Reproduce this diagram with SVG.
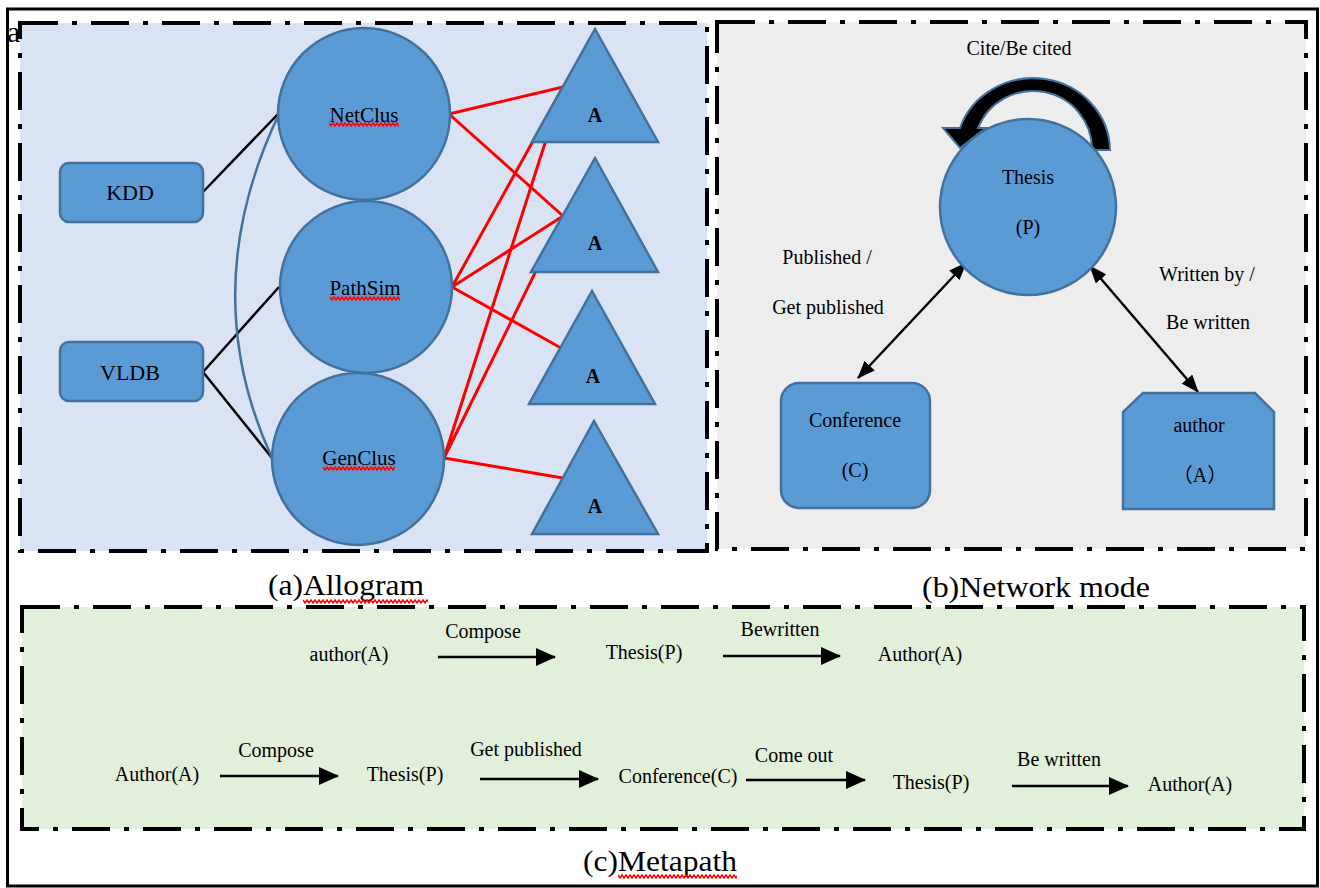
<svg xmlns="http://www.w3.org/2000/svg" xmlns:xlink="http://www.w3.org/1999/xlink" width="1320" height="888" viewBox="0 0 1320 888">
<style>
.t{font-family:"Liberation Serif","Times New Roman",serif;fill:#000;text-anchor:middle}
.s20{font-size:20px}
.s21{font-size:21px}
.s22{font-size:22px}
.lbl{font-size:30px}
.bold{font-weight:bold}
.panel{stroke:#000;stroke-width:4;stroke-dasharray:38 14 5 14}
.shape{fill:#5b9bd5;stroke:#41719c;stroke-width:2.5}
.blk{stroke:#000;stroke-width:2.5;fill:none}
.red{stroke:#ff0000;stroke-width:3;fill:none}
.arr{stroke:#000;stroke-width:2.5;fill:none}
.wv{stroke:#ff0000;stroke-width:1.5;fill:none}
</style>
<defs>
<marker id="ah" viewBox="0 0 18 14" refX="17" refY="7" markerWidth="18" markerHeight="14" markerUnits="userSpaceOnUse" orient="auto-start-reverse"><path d="M0,0 L18,7 L0,14 z" fill="#000"/></marker>
<marker id="ahc" viewBox="0 0 20 18" refX="19" refY="9" markerWidth="20" markerHeight="18" markerUnits="userSpaceOnUse" orient="auto"><path d="M0,0 L20,9 L0,18 z" fill="#000"/></marker>
<path id="wave" class="wv" d="M0,1 l2,3 2,-3 2,3 2,-3 2,3 2,-3 2,3 2,-3 2,3 2,-3 2,3 2,-3 2,3 2,-3 2,3 2,-3 2,3 2,-3 2,3 2,-3 2,3 2,-3 2,3 2,-3 2,3 2,-3 2,3 2,-3 2,3 2,-3 2,3 2,-3 2,3 2,-3 2,3 2,-3 2,3 2,-3 2,3 2,-3 2,3 2,-3 2,3 2,-3 2,3 2,-3 2,3 2,-3 2,3 2,-3 2,3 2,-3 2,3 2,-3 2,3 2,-3 2,3 2,-3 2,3 2,-3 2,3 2,-3 2,3 2,-3 2,3 2,-3 2,3 2,-3"/>
</defs>
<rect x="0" y="0" width="1320" height="888" fill="#fff"/>
<rect x="7.5" y="9" width="1310" height="877" fill="none" stroke="#000" stroke-width="3"/>
<text class="t" x="7" y="42" style="text-anchor:start;font-size:30px">a</text>

<g id="panel-a">
<rect x="20" y="23" width="687" height="528" fill="#dae3f3" class="panel"/>
</g>
<g id="panel-b">
<rect x="717" y="22" width="589" height="527" fill="#ededed" class="panel"/>
</g>
<g id="panel-c">
<rect x="22" y="607" width="1282" height="222" fill="#e2efda" class="panel"/>
</g>

<g id="connectors">
<path class="blk" d="M203,192 L279,113"/>
<path class="blk" d="M203,372 L279,287"/>
<path class="blk" d="M203,372 L272,458"/>
<path d="M279,114 Q195,290 272,458" fill="none" stroke="#41719c" stroke-width="2.5"/>
<path class="red" d="M449,114 L563,87 M449,114 L563,216"/>
<path class="red" d="M452,287 L563,87 M452,287 L563,216 M452,287 L561,348"/>
<path class="red" d="M444,458 L563,87 M444,458 L563,216 M444,458 L563,478"/>
<path class="arr" d="M858,378 L966,263" marker-start="url(#ah)" marker-end="url(#ah)"/>
<path class="arr" d="M1090,266 L1198,392" marker-start="url(#ah)" marker-end="url(#ah)"/>
<path d="M1110,150 A77,73 0 0 0 960,128 L943,128 L960,148 L986,128 L978,128 A59,58 0 0 1 1092,150 Z" fill="#000" stroke="#41719c" stroke-width="2" stroke-linejoin="miter"/>
<path class="arr" d="M438,657 L555,657" marker-end="url(#ahc)"/>
<path class="arr" d="M723,656 L840,656" marker-end="url(#ahc)"/>
<path class="arr" d="M220,776 L338,776" marker-end="url(#ahc)"/>
<path class="arr" d="M480,779 L598,779" marker-end="url(#ahc)"/>
<path class="arr" d="M746,780 L865,780" marker-end="url(#ahc)"/>
<path class="arr" d="M1012,786 L1128,786" marker-end="url(#ahc)"/>
</g>

<g id="node-kdd">
<rect class="shape" x="60" y="163" width="143" height="59" rx="9"/>
<text class="t s22" x="130" y="200">KDD</text>
</g>
<g id="node-vldb">
<rect class="shape" x="60" y="342" width="143" height="59" rx="9"/>
<text class="t s22" x="130" y="380">VLDB</text>
</g>
<g id="node-netclus">
<circle class="shape" cx="364" cy="114" r="86"/>
<text class="t s21" x="364" y="122">NetClus</text>
<svg x="329" y="122" width="70" height="6" overflow="hidden"><use xlink:href="#wave"/></svg>
</g>
<g id="node-pathsim">
<circle class="shape" cx="366" cy="287" r="86"/>
<text class="t s21" x="365" y="295">PathSim</text>
<svg x="330" y="296" width="70" height="6" overflow="hidden"><use xlink:href="#wave"/></svg>
</g>
<g id="node-genclus">
<circle class="shape" cx="358" cy="459" r="86"/>
<text class="t s21" x="359" y="465">GenClus</text>
<svg x="323" y="466" width="72" height="6" overflow="hidden"><use xlink:href="#wave"/></svg>
</g>
<g id="node-a1">
<polygon class="shape" points="595,29 658,142 532,142"/>
<text class="t s20 bold" x="595" y="122">A</text>
</g>
<g id="node-a2">
<polygon class="shape" points="595,158 658,272 531,272"/>
<text class="t s20 bold" x="595" y="250">A</text>
</g>
<g id="node-a3">
<polygon class="shape" points="592,291 655,404 529,404"/>
<text class="t s20 bold" x="593" y="383">A</text>
</g>
<g id="node-a4">
<polygon class="shape" points="594,421 658,534 532,534"/>
<text class="t s20 bold" x="595" y="513">A</text>
</g>

<g id="node-thesis">
<circle class="shape" cx="1028" cy="207" r="88"/>
<text class="t s20" x="1028" y="184">Thesis</text>
<text class="t s20" x="1028" y="234">(P)</text>
</g>
<g id="node-conference">
<rect class="shape" x="781" y="383" width="149" height="125" rx="18"/>
<text class="t s20" x="855" y="427">Conference</text>
<text class="t s20" x="855" y="477">(C)</text>
</g>
<g id="node-author">
<polygon class="shape" points="1143,393 1255,393 1274,412 1274,509 1123,509 1123,412"/>
<text class="t s20" x="1199" y="432">author</text>
<text class="t s20" x="1200" y="482" style="font-family:'Liberation Serif','Noto Sans CJK SC',serif">（A）</text>
</g>
<g id="labels-b">
<text class="t s20" x="1019" y="55">Cite/Be cited</text>
<text class="t s20" x="827" y="264">Published /</text>
<text class="t s20" x="828" y="314">Get published</text>
<text class="t s20" x="1207" y="281">Written by /</text>
<text class="t s20" x="1208" y="329">Be written</text>
</g>

<g id="metapath">
<text class="t s20" x="349" y="661">author(A)</text>
<text class="t s20" x="483" y="638">Compose</text>
<text class="t s20" x="644" y="659">Thesis(P)</text>
<text class="t s20" x="780" y="636">Bewritten</text>
<text class="t s20" x="920" y="661">Author(A)</text>
<text class="t s20" x="157" y="781">Author(A)</text>
<text class="t s20" x="276" y="757">Compose</text>
<text class="t s20" x="405" y="781">Thesis(P)</text>
<text class="t s20" x="526" y="756">Get published</text>
<text class="t s20" x="678" y="783">Conference(C)</text>
<text class="t s20" x="794" y="762">Come out</text>
<text class="t s20" x="931" y="789">Thesis(P)</text>
<text class="t s20" x="1059" y="766">Be written</text>
<text class="t s20" x="1190" y="791">Author(A)</text>
</g>

<g id="panel-labels">
<text class="t lbl" x="268" y="595" style="text-anchor:start" textLength="156" lengthAdjust="spacingAndGlyphs">(a)Allogram</text>
<svg x="303" y="599" width="125" height="6" overflow="hidden"><use xlink:href="#wave"/></svg>
<text class="t lbl" x="922" y="597" style="text-anchor:start" textLength="228" lengthAdjust="spacingAndGlyphs">(b)Network mode</text>
<text class="t lbl" x="583" y="871" style="text-anchor:start" textLength="154" lengthAdjust="spacingAndGlyphs">(c)Metapath</text>
<svg x="618" y="874" width="119" height="6" overflow="hidden"><use xlink:href="#wave"/></svg>
</g>
</svg>
